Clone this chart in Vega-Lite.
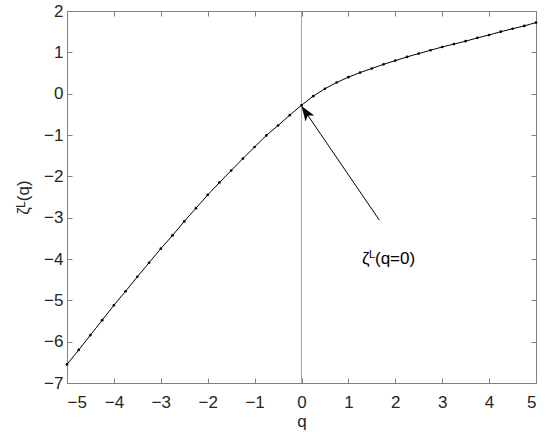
{
  "$schema": "https://vega.github.io/schema/vega-lite/v6.json",
  "width": 469,
  "height": 372,
  "autosize": "none",
  "padding": {"left": 67, "top": 11, "right": 14, "bottom": 55},
  "background": "white",
  "config": {
    "font": "Liberation Sans",
    "view": {"stroke": null},
    "axis": {
      "grid": false,
      "domainColor": "#808080",
      "tickColor": "#808080",
      "domainWidth": 1,
      "tickWidth": 1,
      "labelColor": "#262626",
      "labelFontSize": 17,
      "labelFont": "Liberation Sans",
      "titleFont": "Liberation Sans",
      "titleFontSize": 17,
      "titleFontWeight": "normal",
      "titleColor": "#262626"
    }
  },
  "datasets": {
    "series": [
      {"q": -5, "z": -6.55}, {"q": -4.75, "z": -6.2}, {"q": -4.5, "z": -5.84}, {"q": -4.25, "z": -5.48},
      {"q": -4, "z": -5.12}, {"q": -3.75, "z": -4.78}, {"q": -3.5, "z": -4.43}, {"q": -3.25, "z": -4.09},
      {"q": -3, "z": -3.75}, {"q": -2.75, "z": -3.43}, {"q": -2.5, "z": -3.09}, {"q": -2.25, "z": -2.77},
      {"q": -2, "z": -2.45}, {"q": -1.75, "z": -2.15}, {"q": -1.5, "z": -1.86}, {"q": -1.25, "z": -1.57},
      {"q": -1, "z": -1.29}, {"q": -0.75, "z": -1.01}, {"q": -0.5, "z": -0.77}, {"q": -0.25, "z": -0.52},
      {"q": 0, "z": -0.28}, {"q": 0.25, "z": -0.06}, {"q": 0.5, "z": 0.12}, {"q": 0.75, "z": 0.27},
      {"q": 1, "z": 0.4}, {"q": 1.25, "z": 0.51}, {"q": 1.5, "z": 0.61}, {"q": 1.75, "z": 0.71},
      {"q": 2, "z": 0.8}, {"q": 2.25, "z": 0.89}, {"q": 2.5, "z": 0.97}, {"q": 2.75, "z": 1.05},
      {"q": 3, "z": 1.13}, {"q": 3.25, "z": 1.2}, {"q": 3.5, "z": 1.27}, {"q": 3.75, "z": 1.35},
      {"q": 4, "z": 1.42}, {"q": 4.25, "z": 1.5}, {"q": 4.5, "z": 1.57}, {"q": 4.75, "z": 1.64},
      {"q": 5, "z": 1.72}
    ],
    "zero": [{"q": 0}],
    "arrow": [{"q": 1.66, "z": -3.06, "q2": 0.0, "z2": -0.3}],
    "note": [{"q": 1.29, "z": -4.13, "base": "ζ", "sup": "L", "rest": "(q=0)"}]
  },
  "resolve": {"axis": {"x": "independent", "y": "independent"}},
  "layer": [
    {
      "data": {"name": "zero"},
      "mark": {"type": "rule", "color": "#a6a6a6", "strokeWidth": 1},
      "encoding": {
        "x": {"field": "q", "type": "quantitative", "scale": {"domain": [-5, 5], "nice": false, "zero": false}, "axis": null}
      }
    },
    {
      "data": {"name": "series"},
      "mark": {"type": "line", "color": "#000000", "strokeWidth": 1},
      "encoding": {
        "x": {
          "field": "q", "type": "quantitative",
          "scale": {"domain": [-5, 5], "nice": false, "zero": false},
          "axis": {"orient": "bottom", "values": [-5, -4, -3, -2, -1, 0, 1, 2, 3, 4, 5], "tickSize": -5, "labelPadding": 16, "title": "q", "titlePadding": 3, "format": "d"}
        },
        "y": {
          "field": "z", "type": "quantitative",
          "scale": {"domain": [-7, 2], "nice": false, "zero": false},
          "axis": {"orient": "left", "values": [-7, -6, -5, -4, -3, -2, -1, 0, 1, 2], "tickSize": -5, "labelPadding": 9, "title": "ζᴸ(q)", "titlePadding": 11, "format": "d"}
        }
      }
    },
    {
      "data": {"name": "series"},
      "mark": {"type": "point", "filled": true, "color": "#000000", "size": 7, "opacity": 1},
      "encoding": {
        "x": {"field": "q", "type": "quantitative", "scale": {"domain": [-5, 5], "nice": false, "zero": false}, "axis": null},
        "y": {"field": "z", "type": "quantitative", "scale": {"domain": [-7, 2], "nice": false, "zero": false}, "axis": null}
      }
    },
    {
      "data": {"name": "arrow"},
      "mark": {"type": "rule", "color": "#000000", "strokeWidth": 1},
      "encoding": {
        "x": {
          "field": "q", "type": "quantitative",
          "scale": {"domain": [-5, 5], "nice": false, "zero": false},
          "axis": {"orient": "top", "values": [-5, -4, -3, -2, -1, 0, 1, 2, 3, 4, 5], "tickSize": -5, "labels": false, "title": null}
        },
        "y": {
          "field": "z", "type": "quantitative",
          "scale": {"domain": [-7, 2], "nice": false, "zero": false},
          "axis": {"orient": "right", "values": [-7, -6, -5, -4, -3, -2, -1, 0, 1, 2], "tickSize": -5, "labels": false, "title": null}
        },
        "x2": {"field": "q2"},
        "y2": {"field": "z2"}
      }
    },
    {
      "data": {"name": "arrow"},
      "mark": {"type": "point", "filled": true, "color": "#000000", "opacity": 1, "size": 225, "angle": 326, "shape": "M0,0L-0.7,2L0,1.5L0.7,2Z"},
      "encoding": {
        "x": {"field": "q2", "type": "quantitative", "scale": {"domain": [-5, 5], "nice": false, "zero": false}, "axis": null},
        "y": {"field": "z2", "type": "quantitative", "scale": {"domain": [-7, 2], "nice": false, "zero": false}, "axis": null}
      }
    },
    {
      "data": {"name": "note"},
      "mark": {"type": "text", "align": "left", "baseline": "alphabetic", "fontSize": 17, "color": "#000000", "font": "Liberation Sans"},
      "encoding": {
        "x": {"field": "q", "type": "quantitative", "scale": {"domain": [-5, 5], "nice": false, "zero": false}, "axis": null},
        "y": {"field": "z", "type": "quantitative", "scale": {"domain": [-7, 2], "nice": false, "zero": false}, "axis": null},
        "text": {"field": "base"}
      }
    },
    {
      "data": {"name": "note"},
      "mark": {"type": "text", "align": "left", "baseline": "alphabetic", "fontSize": 11, "dx": 7, "dy": -6.5, "color": "#000000", "font": "Liberation Sans"},
      "encoding": {
        "x": {"field": "q", "type": "quantitative", "scale": {"domain": [-5, 5], "nice": false, "zero": false}, "axis": null},
        "y": {"field": "z", "type": "quantitative", "scale": {"domain": [-7, 2], "nice": false, "zero": false}, "axis": null},
        "text": {"field": "sup"}
      }
    },
    {
      "data": {"name": "note"},
      "mark": {"type": "text", "align": "left", "baseline": "alphabetic", "fontSize": 17, "dx": 13, "color": "#000000", "font": "Liberation Sans"},
      "encoding": {
        "x": {"field": "q", "type": "quantitative", "scale": {"domain": [-5, 5], "nice": false, "zero": false}, "axis": null},
        "y": {"field": "z", "type": "quantitative", "scale": {"domain": [-7, 2], "nice": false, "zero": false}, "axis": null},
        "text": {"field": "rest"}
      }
    }
  ]
}
